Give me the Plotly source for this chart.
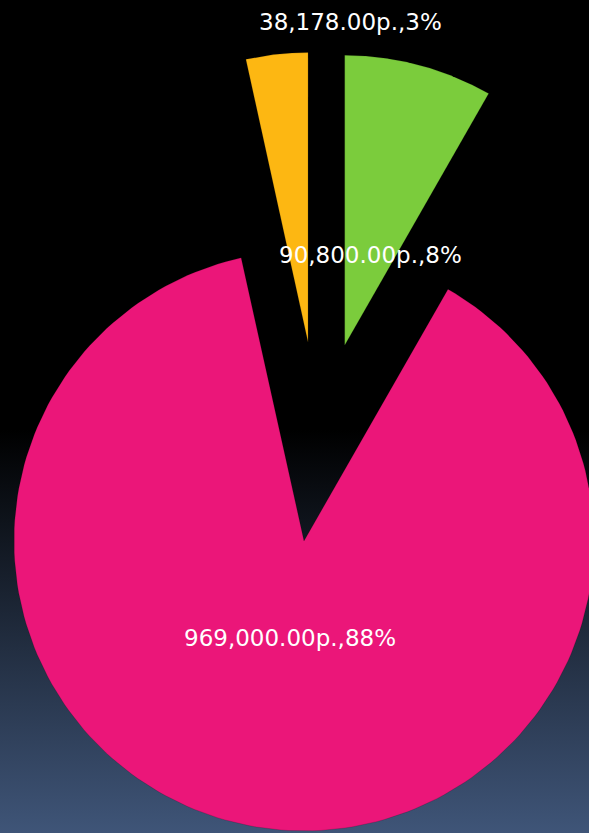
import numpy as np
import plotly.graph_objects as go

# ---- data ----
categories = ["Статья 1", "Статья 2", "Статья 3"]
values = [90800.00, 969000.00, 38178.00]
colors = ["#7BCC3C", "#EB1679", "#FDB712"]
currency = "р."

# ---- layout constants (pixels / units) ----
W, H = 589, 833
SCALE = 290.0          # px per unit radius
CX, CY = 319.0, 442.0  # pixel position of pie centre
PULL = 0.345           # explode distance (fraction of radius)
x_range = [-CX / SCALE, (W - CX) / SCALE]
y_range = [-(H - CY) / SCALE, CY / SCALE]

# label positions (data units, relative to pie centre)
label_pos = [(0.176, 0.645), (-0.10, -0.676), (0.107, 1.448)]

fig = go.Figure()

# background gradient
fig.add_trace(go.Scatter(
    x=[x_range[0] - 0.1, x_range[1] + 0.1, x_range[1] + 0.1, x_range[0] - 0.1, x_range[0] - 0.1],
    y=[y_range[0] - 0.1, y_range[0] - 0.1, y_range[1] + 0.1, y_range[1] + 0.1, y_range[0] - 0.1],
    mode="lines", line=dict(width=0), fill="toself",
    fillgradient=dict(type="vertical",
                      colorscale=[[0, "#3f5578"], [1, "#000000"]],
                      start=y_range[0], stop=(CY - 430) / SCALE),
    hoverinfo="skip", showlegend=False,
))

total = float(sum(values))
cum = 0.0
annotations = []
for i, (name, v, c) in enumerate(zip(categories, values, colors)):
    a0 = cum / total * 2 * np.pi
    a1 = (cum + v) / total * 2 * np.pi
    cum += v
    mid = (a0 + a1) / 2
    ox, oy = PULL * np.sin(mid), PULL * np.cos(mid)
    th = np.linspace(a0, a1, 200)
    xs = np.concatenate([[ox], ox + np.sin(th), [ox]])
    ys = np.concatenate([[oy], oy + np.cos(th), [oy]])
    fig.add_trace(go.Scatter(
        x=xs, y=ys, mode="lines", fill="toself", fillcolor=c,
        line=dict(width=0.6, color="rgba(0,0,0,0.25)"),
        name=name, hoverinfo="skip", showlegend=False,
    ))
    pct = v / total * 100
    txt = f"{v:,.2f}{currency},{round(pct)}%"
    lx, ly = label_pos[i]
    annotations.append(dict(
        x=lx, y=ly, xref="x", yref="y", text=txt, showarrow=False,
        font=dict(family="DejaVu Sans", size=23, color="#ffffff"),
        xanchor="center", yanchor="middle",
    ))

fig.update_layout(
    width=W, height=H,
    margin=dict(l=0, r=0, t=0, b=0),
    paper_bgcolor="#000000", plot_bgcolor="#000000",
    xaxis=dict(range=x_range, visible=False, fixedrange=True),
    yaxis=dict(range=y_range, visible=False, fixedrange=True),
    annotations=annotations,
    showlegend=False,
)

fig.write_html(
    "out.html",
    config={"displayModeBar": False},
    post_script="document.body.style.margin='0';document.body.style.background='#000';",
)
